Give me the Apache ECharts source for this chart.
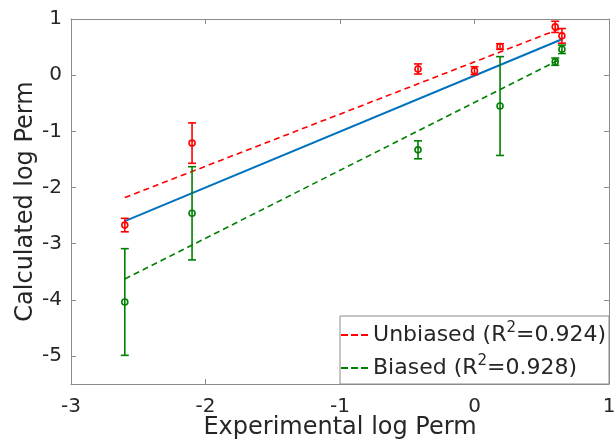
<!DOCTYPE html>
<html>
<head>
<meta charset="utf-8">
<script src="https://cdn.jsdelivr.net/npm/echarts@6/dist/echarts.min.js"></script>
<style>
  html, body { margin: 0; padding: 0; background: #fff; }
  #chart { width: 616px; height: 445px; }
</style>
</head>
<body>
<div id="chart"></div>
<script>
// measured points: [experimental, calculated, error half-width]
const unbiasedPts = [
  [-2.6, -2.67, 0.12],
  [-2.1, -1.21, 0.36],
  [-0.42, 0.11, 0.09],
  [0.0, 0.08, 0.07],
  [0.19, 0.51, 0.05],
  [0.6, 0.86, 0.1],
  [0.65, 0.70, 0.13],
];
const biasedPts = [
  [-2.6, -4.04, 0.95],
  [-2.1, -2.46, 0.83],
  [-0.42, -1.33, 0.16],
  [0.19, -0.55, 0.88],
  [0.6, 0.24, 0.065],
  [0.65, 0.46, 0.075],
];
// fitted lines (end points)
const unbiasedFit = [[-2.6, -2.18], [0.65, 0.84]];
const biasedFit = [[-2.6, -3.63], [0.65, 0.30]];
const overallFit = [[-2.6, -2.6], [0.65, 0.64]];
const r2 = { Unbiased: '0.924', Biased: '0.928' };
const yTicks = [-5, -4, -3, -2, -1, 0, 1];

const RED = '#ff0000';
const GREEN = '#008000';
const BLUE = '#0072bd';
const AXIS = '#8c8c8c';
const TEXT = '#262626';
const FONT = 'DejaVu Sans';

const errorBars = (color) => (params, api) => {
  const x = api.value(0), y = api.value(1), e = api.value(2);
  const c = api.coord([x, y]);
  const t = api.coord([x, y + e]);
  const b = api.coord([x, y - e]);
  const w = 4;
  const st = { stroke: color, lineWidth: 1.6, fill: 'none' };
  return {
    type: 'group',
    children: [
      { type: 'line', shape: { x1: c[0], y1: t[1], x2: c[0], y2: b[1] }, style: st },
      { type: 'line', shape: { x1: c[0] - w, y1: t[1], x2: c[0] + w, y2: t[1] }, style: st },
      { type: 'line', shape: { x1: c[0] - w, y1: b[1], x2: c[0] + w, y2: b[1] }, style: st },
      { type: 'circle', shape: { cx: c[0], cy: c[1], r: 3 }, style: st },
    ],
  };
};

const chart = echarts.init(document.getElementById('chart'));

const axisCommon = {
  axisLine: { show: true, onZero: false, lineStyle: { color: AXIS, width: 1 } },
  axisTick: { show: true, inside: true, length: 5, lineStyle: { color: AXIS } },
  splitLine: { show: false },
};

// three short dashes for the legend
const dashIcon = 'path://M0,0h7v2h-7zM10,0h7v2h-7zM20,0h7v2h-7z';

chart.setOption({
  animation: false,
  backgroundColor: '#fff',
  textStyle: { fontFamily: FONT },
  grid: { left: 71, right: 7, top: 19, bottom: 61, outerBoundsMode: 'none', containLabel: false },
  legend: {
    orient: 'vertical',
    right: 7,
    bottom: 61,
    data: [
      { name: 'Unbiased', icon: dashIcon },
      { name: 'Biased', icon: dashIcon },
    ],
    itemWidth: 27,
    itemHeight: 2,
    itemGap: 8,
    padding: [5, 3, 5, 1],
    borderColor: AXIS,
    borderWidth: 1,
    backgroundColor: '#fff',
    formatter: (name) => `{t|${name} (R}{s|2}{t|=${r2[name]})}`,
    textStyle: {
      color: TEXT,
      rich: {
        t: { fontSize: 22, fontFamily: FONT, color: TEXT, lineHeight: 28 },
        s: { fontSize: 15, fontFamily: FONT, color: TEXT, lineHeight: 12, verticalAlign: 'top' },
      },
    },
  },
  xAxis: [
    {
      ...axisCommon,
      type: 'value',
      min: -3,
      max: 1,
      interval: 1,
      name: 'Experimental log Perm',
      nameLocation: 'middle',
      nameGap: 32,
      nameMoveOverlap: false,
      nameTextStyle: { fontSize: 24, color: TEXT, fontFamily: FONT },
      axisLabel: { fontSize: 20, color: TEXT, margin: 13, fontFamily: FONT },
    },
    {
      ...axisCommon,
      type: 'value',
      position: 'top',
      min: -3,
      max: 1,
      interval: 1,
      axisLabel: { show: false },
    },
  ],
  yAxis: [
    {
      ...axisCommon,
      type: 'value',
      min: -5.5,
      max: 1,
      name: 'Calculated log Perm',
      nameLocation: 'middle',
      nameGap: 33,
      nameMoveOverlap: false,
      nameTextStyle: { fontSize: 24, color: TEXT, fontFamily: FONT },
      axisLabel: { fontSize: 20, color: TEXT, margin: 9, fontFamily: FONT, customValues: yTicks },
      axisTick: { ...axisCommon.axisTick, customValues: yTicks },
    },
    {
      ...axisCommon,
      type: 'value',
      position: 'right',
      min: -5.5,
      max: 1,
      axisLabel: { show: false, customValues: yTicks },
      axisTick: { ...axisCommon.axisTick, customValues: yTicks },
    },
  ],
  series: [
    {
      name: 'Fit',
      type: 'line',
      data: overallFit,
      symbol: 'none',
      lineStyle: { color: BLUE, width: 2 },
      z: 2,
    },
    {
      name: 'Unbiased',
      type: 'line',
      data: unbiasedFit,
      symbol: 'none',
      itemStyle: { color: RED },
      lineStyle: { color: RED, width: 1.6, type: [6, 4] },
      z: 2,
    },
    {
      name: 'Biased',
      type: 'line',
      data: biasedFit,
      symbol: 'none',
      itemStyle: { color: GREEN },
      lineStyle: { color: GREEN, width: 1.6, type: [6, 4] },
      z: 2,
    },
    {
      name: 'UnbiasedPts',
      type: 'custom',
      data: unbiasedPts,
      renderItem: errorBars(RED),
      z: 3,
    },
    {
      name: 'BiasedPts',
      type: 'custom',
      data: biasedPts,
      renderItem: errorBars(GREEN),
      z: 3,
    },
  ],
});
</script>
</body>
</html>
